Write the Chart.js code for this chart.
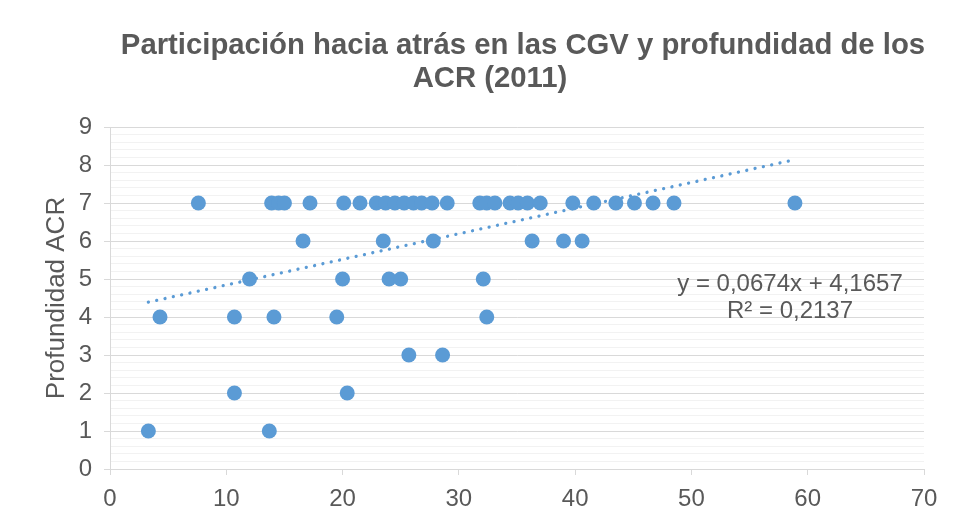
<!DOCTYPE html>
<html>
<head>
<meta charset="utf-8">
<script src="https://cdn.jsdelivr.net/npm/chart.js@4"></script>
<style>
  body { margin: 0; background: #fff; }
  #box { width: 962px; height: 531px; }
</style>
</head>
<body>
<div id="box"><canvas id="myChart" width="962" height="531"></canvas></div>
<script>
// Data: participacion hacia atras (x) vs profundidad (y)
const xValues = [
  7.6, 13.9, 14.5, 15.0, 17.2, 20.1, 21.5, 22.9, 23.7, 24.5, 25.3, 26.1, 26.8, 27.7, 29.0,
  31.8, 32.4, 33.1, 34.4, 35.1, 35.9, 37.0, 39.8, 41.6, 43.5, 45.1, 46.7, 48.5, 58.9,
  16.6, 23.5, 27.8, 36.3, 39.0, 40.6,
  12.0, 20.0, 24.0, 25.0, 32.1,
  4.3, 10.7, 14.1, 19.5, 32.4,
  25.7, 28.6,
  10.7, 20.4,
  3.3, 13.7
];
const yValues = [
  7, 7, 7, 7, 7, 7, 7, 7, 7, 7, 7, 7, 7, 7, 7,
  7, 7, 7, 7, 7, 7, 7, 7, 7, 7, 7, 7, 7, 7,
  6, 6, 6, 6, 6, 6,
  5, 5, 5, 5, 5,
  4, 4, 4, 4, 4,
  3, 3,
  2, 2,
  1, 1
];
// Trendline ends (y = 0,0674x + 4,1657)
const trendX = [3.3, 58.9];
const trendY = [4.39, 8.14];

const titleLines = ['Participación hacia atrás en las CGV y profundidad de los', 'ACR (2011)'];
const equationLines = ['y = 0,0674x + 4,1657', 'R² = 0,2137'];

const textGray = '#595959';
const blue = '#5B9BD5';
const fontFamily = '"Liberation Sans", Arial, sans-serif';

// Title and trendline label drawn as text on the canvas
const textPlugin = {
  id: 'textPlugin',
  afterDraw(chart) {
    const c = chart.ctx;
    c.save();
    c.fillStyle = textGray;
    c.textAlign = 'center';
    c.textBaseline = 'middle';
    c.font = 'bold 29.3px ' + fontFamily;
    c.fillText(titleLines[0], 523, 46);
    c.fillText(titleLines[1], 490, 79);
    c.font = '24px ' + fontFamily;
    c.fillText(equationLines[0], 790, 284);
    c.fillText(equationLines[1], 790, 311);
    c.restore();
  }
};

const ctx = document.getElementById('myChart');

const myChart = new Chart(ctx, {
  type: 'scatter',
  data: {
    datasets: [{
      label: 'Profundidad ACR',
      data: xValues.map((x, i) => ({ x: x, y: yValues[i] })),
      backgroundColor: blue,
      borderColor: blue,
      borderWidth: 0,
      pointRadius: 7.5,
      order: 1
    }, {
      label: 'Lineal',
      data: trendX.map((x, i) => ({ x: x, y: trendY[i] })),
      showLine: true,
      borderColor: blue,
      borderWidth: 3.3,
      borderDash: [0.01, 8.5],
      borderCapStyle: 'round',
      pointRadius: 0,
      order: 0
    }]
  },
  options: {
    responsive: false,
    animation: false,
    layout: { padding: { top: 127, right: 38, left: 0, bottom: 0 } },
    plugins: {
      legend: { display: false },
      tooltip: { enabled: false }
    },
    scales: {
      x: {
        type: 'linear',
        min: 0,
        max: 70,
        ticks: { stepSize: 10, color: textGray, font: { size: 24, family: fontFamily }, padding: 10 },
        grid: { drawOnChartArea: false, drawTicks: true, tickLength: 6, color: '#D9D9D9' },
        border: { color: '#D9D9D9' },
        afterFit: (scale) => { scale.height = 62; }
      },
      yMinor: {
        position: 'left',
        min: 0,
        max: 9,
        z: -1,
        ticks: { display: false, stepSize: 0.2 },
        grid: { color: '#F2F2F2', drawTicks: false },
        border: { display: false },
        afterFit: (scale) => { scale.width = 0; }
      },
      y: {
        position: 'left',
        min: 0,
        max: 9,
        ticks: { stepSize: 1, color: textGray, font: { size: 24, family: fontFamily }, padding: 12 },
        grid: { color: '#D9D9D9', tickLength: 6 },
        border: { color: '#D9D9D9' },
        title: {
          display: true,
          text: 'Profundidad ACR',
          color: textGray,
          font: { size: 26, family: fontFamily },
          padding: { top: 41, bottom: 0 }
        },
        afterFit: (scale) => { scale.width = 110; }
      }
    }
  },
  plugins: [textPlugin]
});
</script>
</body>
</html>
